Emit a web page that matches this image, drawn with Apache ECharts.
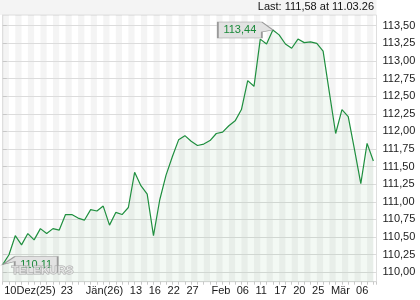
<!DOCTYPE html>
<html>
<head>
<meta charset="utf-8">
<script src="https://cdn.jsdelivr.net/npm/echarts@6/dist/echarts.min.js"></script>
<style>
html,body{margin:0;padding:0;background:#fff;}
#c{width:420px;height:300px;}
</style>
</head>
<body>
<div id="c"></div>
<script>
// trading days (dd.mm.yy)
const dates = [
 '10.12.25','11.12.25','12.12.25','15.12.25','16.12.25','17.12.25','18.12.25','19.12.25','22.12.25','23.12.25',
 '29.12.25','30.12.25','31.12.25',
 '02.01.26','05.01.26','06.01.26','07.01.26','08.01.26','09.01.26','12.01.26','13.01.26','14.01.26','15.01.26','16.01.26',
 '20.01.26','21.01.26','22.01.26','23.01.26','26.01.26','27.01.26','28.01.26','29.01.26','30.01.26',
 '02.02.26','03.02.26','04.02.26','05.02.26','06.02.26','09.02.26','10.02.26','11.02.26','12.02.26','13.02.26',
 '17.02.26','18.02.26','19.02.26','20.02.26','23.02.26','24.02.26','25.02.26','26.02.26','27.02.26',
 '02.03.26','03.03.26','04.03.26','05.03.26','06.03.26','09.03.26','10.03.26','11.03.26'
];
const prices = [
 110.11,110.25,110.52,110.39,110.55,110.46,110.62,110.55,110.62,110.60,
 110.82,110.82,110.77,110.74,110.89,110.87,110.94,110.67,110.85,110.82,
 110.92,111.42,111.23,111.11,110.52,111.03,111.38,111.64,111.88,111.94,
 111.86,111.80,111.82,111.87,111.97,111.99,112.08,112.15,112.31,112.72,
 112.64,113.31,113.24,113.44,113.37,113.24,113.18,113.31,113.26,113.27,
 113.25,113.14,112.55,111.97,112.31,112.21,111.74,111.26,111.83,111.58
];
// x-axis labels shown (by trading-day index)
const xLabelIdx = [0, 9, 13, 20, 23, 26, 29, 33, 37, 40, 43, 46, 49, 52, 56];
const xLabelTxt = ['10Dez(25)','23','Jän(26)','13','16','22','27','Feb','06','11','17','20','25','Mär','06'];
const yTickMin = 110.00, yTickMax = 113.50, yTickStep = 0.25;

const fmt = v => v.toFixed(2).replace('.', ',');
const labelMap = {};
xLabelIdx.forEach((i, k) => labelMap[i] = xLabelTxt[k]);
const seriesData = prices.map((p, i) => [i, p]);
const maxVal = Math.max(...prices), maxIdx = prices.indexOf(maxVal);
const minVal = Math.min(...prices), minIdx = prices.indexOf(minVal);
const lastIdx = prices.length - 1;
const FONT = '"Liberation Sans", Arial, sans-serif';

const chart = echarts.init(document.getElementById('c'), null, {renderer: 'canvas'});
chart.setOption({
  animation: false,
  backgroundColor: '#ffffff',
  textStyle: {fontFamily: FONT},
  graphic: [
    {type: 'rect', left: 0, top: 0, z: -10, shape: {width: 376.5, height: 15}, style: {fill: '#f4f4f4'}},
    {type: 'text', right: 46, top: 1, z: 10,
     style: {text: 'Last: ' + fmt(prices[lastIdx]) + ' at ' + dates[lastIdx], font: '11px ' + FONT, fill: '#111'}},
    {type: 'text', left: 11, top: 264.5, z: 100,
     style: {text: 'TELEKURS', font: 'bold 11.5px ' + FONT, fill: 'rgba(255,255,255,0.55)', stroke: '#a8a8a8', lineWidth: 1}}
  ],
  grid: [
    {left: 2.7, right: 43.5, top: 15, bottom: 18.3, show: true, borderColor: '#dedede', borderWidth: 1, backgroundColor: 'transparent'},
    {left: 2.7, right: 43.5, top: 25.7, bottom: 27.7, show: false}
  ],
  xAxis: [{
    type: 'value', min: 0, max: prices.length - 0.5, interval: 1, z: 0,
    axisLine: {show: true, lineStyle: {color: '#d8d8d8'}},
    axisTick: {show: true, length: 3, lineStyle: {color: '#c8c8c8'}},
    splitLine: {show: false},
    splitArea: {show: true, areaStyle: {color: ['rgba(0,0,0,0.045)', 'rgba(0,0,0,0)']}},
    axisLabel: {
      show: true, margin: 4, align: 'left', fontSize: 11, color: '#1a1a1a', padding: [0, 0, 0, 1.5],
      showMinLabel: true, showMaxLabel: true,
      formatter: v => (Number.isInteger(v) && labelMap[v] !== undefined) ? labelMap[v] : ''
    }
  }, {
    gridIndex: 1, type: 'value', min: 0, max: 1, show: false
  }],
  yAxis: [{
    type: 'value', position: 'right', min: 109.867, max: 113.652,
    axisLine: {show: true, lineStyle: {color: '#dedede'}},
    axisTick: {show: false},
    axisLabel: {show: false},
    splitLine: {show: false}
  }, {
    gridIndex: 1, type: 'value', position: 'right', min: yTickMin, max: yTickMax, interval: yTickStep, z: 1,
    axisLine: {show: false},
    axisTick: {show: true, length: 4, lineStyle: {color: '#c8c8c8'}},
    axisLabel: {show: true, margin: 6, fontSize: 11, color: '#1a1a1a', formatter: v => fmt(v)},
    splitLine: {show: true, lineStyle: {color: '#dcdcdc', width: 1}}
  }],
  series: [{
    type: 'line',
    z: 3,
    data: seriesData,
    symbol: 'none',
    smooth: false,
    lineStyle: {color: '#1f8f3f', width: 1.2},
    areaStyle: {color: 'rgba(40,140,60,0.08)', origin: 'start'},
    markPoint: {
      silent: true,
      data: [
        {coord: [maxIdx, maxVal], symbol: 'path://M0 0 L44 0 L55 8 L44 10 L44 16 L0 16 Z',
         symbolSize: [55, 16], symbolKeepAspect: false, symbolOffset: [-27.5, 0],
         itemStyle: {color: '#e2e2e2', borderColor: '#9a9a9a', borderWidth: 1},
         label: {show: true, position: 'inside', offset: [-5.5, 0], formatter: fmt(maxVal), color: '#1a8a3a', fontSize: 11}},
        {coord: [minIdx, minVal], symbol: 'path://M0 8 L12 0 L55 0 L55 16 L12 16 L12 5 Z',
         symbolSize: [55, 16], symbolKeepAspect: false, symbolOffset: [27.5, 0],
         itemStyle: {color: '#e2e2e2', borderColor: '#9a9a9a', borderWidth: 1},
         label: {show: true, position: 'inside', offset: [6, 0], formatter: fmt(minVal), color: '#1a8a3a', fontSize: 11}}
      ]
    }
  }]
});
</script>
</body>
</html>
